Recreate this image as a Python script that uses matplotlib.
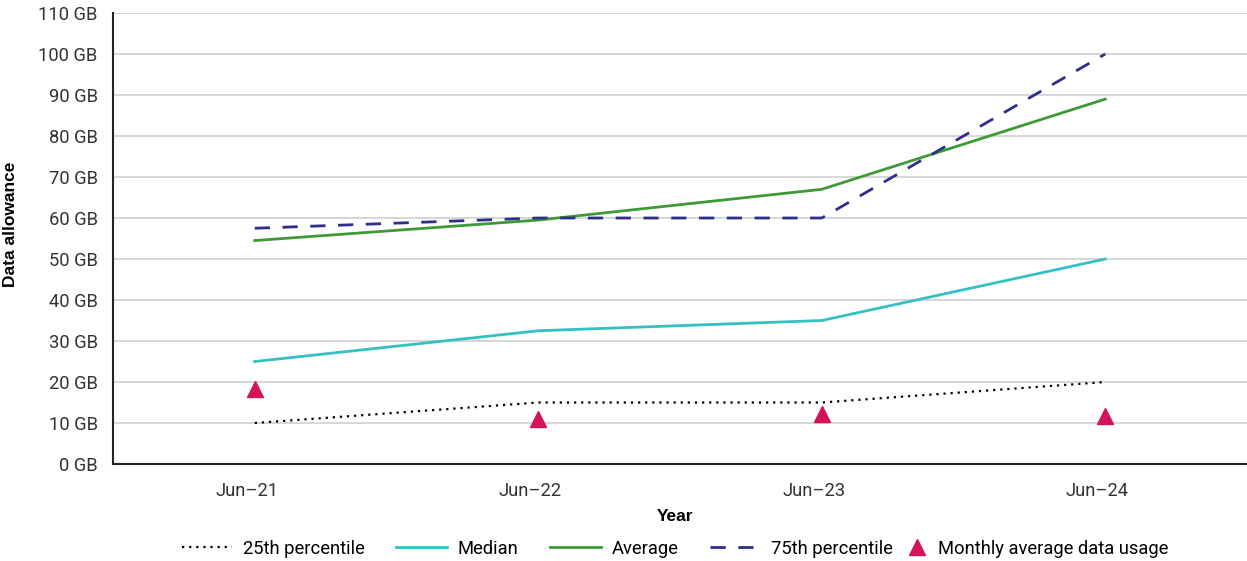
import matplotlib
matplotlib.use("Agg")
import matplotlib.pyplot as plt
from matplotlib.legend_handler import HandlerLine2D
from matplotlib.transforms import ScaledTranslation

plt.rcParams['font.family'] = ['Roboto', 'DejaVu Sans']

# data allowance by year (GB)
years = ['Jun–21', 'Jun–22', 'Jun–23', 'Jun–24']
p25 = [10, 15, 15, 20]
median = [25, 32.5, 35, 50]
average = [54.5, 59.5, 67, 89]
p75 = [57.5, 60, 60, 100]
usage = [18.3, 11.0, 12.2, 11.8]
yticks = list(range(0, 111, 10))


class NarrowMarker(HandlerLine2D):
    # marker-only entry: tiny handle box, marker sits just before the text
    def legend_artist(self, legend, orig_handle, fontsize, handlebox):
        handlebox.width = 0.1 * fontsize
        return super().legend_artist(legend, orig_handle, fontsize, handlebox)

    def get_xdata(self, legend, xdescent, ydescent, width, height, fontsize):
        xm = -0.45 * fontsize - xdescent
        return [xm, xm], [xm]


fig = plt.figure(figsize=(12.47, 5.61), dpi=100)
ax = fig.add_axes([0.0906, 0.1729, 0.9094, 0.8039])

x = range(len(years))
ax.plot(x, p25, color='black', lw=1.6, ls=(0, (1, 2.2)), label='25th percentile', zorder=3)
ax.plot(x, median, color='#35C1C4', lw=2, label='Median', zorder=3)
ax.plot(x, average, color='#3E9A36', lw=2, label='Average', zorder=3)
ax.plot(x, p75, color='#2E2F8A', lw=2, ls=(0, (5.5, 4.5)), label='75th percentile', zorder=3)
usage_line, = ax.plot(x, usage, ls='none', marker='^', ms=12, color='#D4145A',
                      label='Monthly average data usage', zorder=4)

ax.set_xlim(-0.5, 3.5)
ax.set_ylim(0, 110)
ax.set_xticks(list(x))
ax.set_xticklabels(years)
ax.set_yticks(yticks)
ax.set_yticklabels([f'{v} GB' for v in yticks])
ax.tick_params(axis='both', length=0, labelsize=13.2, labelcolor='#333333')
ax.tick_params(axis='x', pad=13)
ax.tick_params(axis='y', pad=11)

# year labels sit a little left of their points
shift = ScaledTranslation(-8 / 100, 0, fig.dpi_scale_trans)
for lbl in ax.get_xticklabels():
    lbl.set_transform(lbl.get_transform() + shift)

ax.yaxis.grid(True, color='#D3D3D3', lw=1.3)
ax.set_axisbelow(True)
for side in ['top', 'right']:
    ax.spines[side].set_visible(False)
for side in ['left', 'bottom']:
    ax.spines[side].set_color('#222222')
    ax.spines[side].set_linewidth(1.5)

ax.set_xlabel('Year', fontsize=12.5, fontweight='bold', family='Liberation Sans')
ax.xaxis.set_label_coords(0.4956, -0.1)
ax.set_ylabel('Data allowance', fontsize=12.5, fontweight='bold', family='Liberation Sans')
ax.yaxis.set_label_coords(-0.084, 0.532)

ax.legend(loc='upper center', bbox_to_anchor=(0.4955, -0.131), ncol=5, frameon=False,
          fontsize=13.2, handlelength=2.75, handletextpad=0.58, columnspacing=1.75,
          handler_map={usage_line: NarrowMarker(numpoints=1)})

fig.savefig('out.png', dpi=100)
